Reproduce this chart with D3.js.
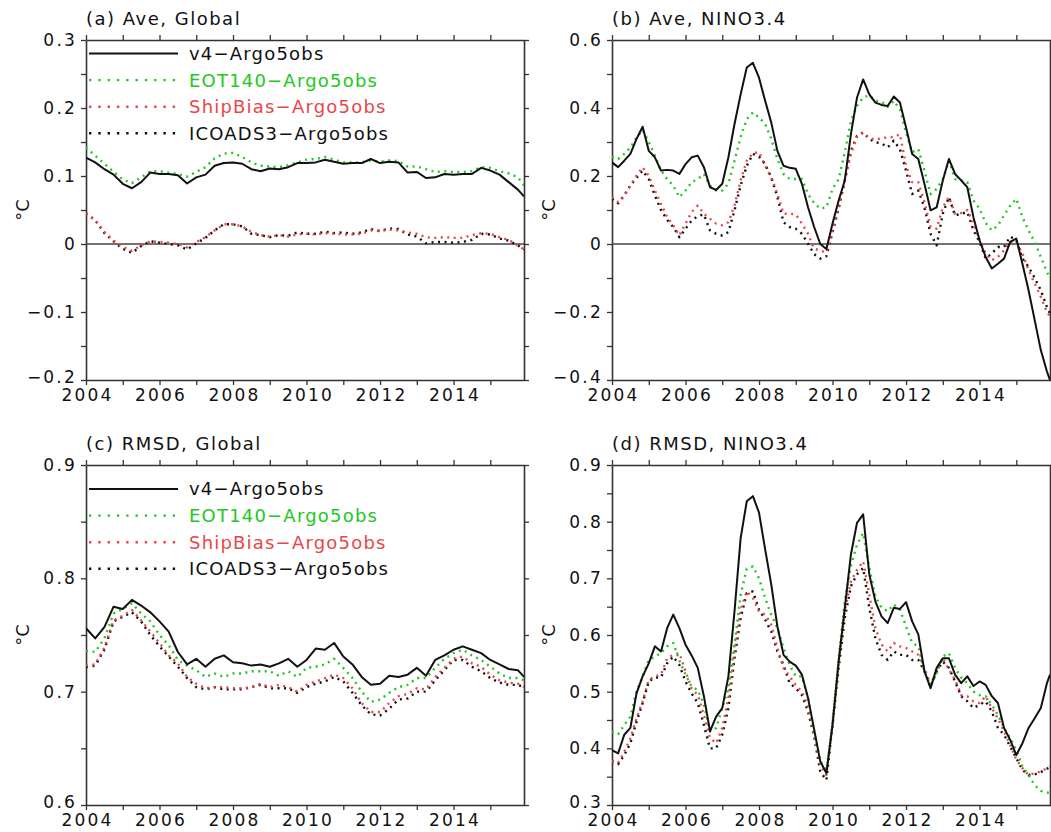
<!DOCTYPE html>
<html lang="en">
<head>
<meta charset="UTF-8">
<title>Argo5obs differences</title>
<script src="https://d3js.org/d3.v7.min.js"></script>
<style>
  body { margin: 0; background: #fff; }
  svg text { font-family: "DejaVu Sans", sans-serif; fill: #111; }
</style>
</head>
<body>
<svg id="chart" width="1051" height="832"></svg>
<script>
// months since Jan 2004 (quarterly for the global panels, every 2 months for NINO3.4)
var monthsQ = [0,3,6,9,12,15,18,21,24,27,30,33,36,39,42,45,48,51,54,57,60,63,66,69,72,75,78,81,84,87,90,93,96,99,102,105,108,111,114,117,120,123,126,129,132,135,138,141,143];
var monthsB = [0,2,4,6,8,10,12,14,16,18,20,22,24,26,28,30,32,34,36,38,40,42,44,46,48,50,52,54,56,58,60,62,64,66,68,70,
  72,74,76,78,80,82,84,86,88,90,92,94,96,98,100,102,104,106,108,110,112,114,116,118,120,122,124,126,128,130,132,134,136,138,140,142,143];

var seriesNames = ["v4\u2212Argo5obs", "EOT140\u2212Argo5obs", "ShipBias\u2212Argo5obs", "ICOADS3\u2212Argo5obs"];
var seriesColors = ["#111111", "#22c822", "#e8474a", "#111111"];
var yearTicks = [2004,2005,2006,2007,2008,2009,2010,2011,2012,2013,2014,2015];

// (a) Ave, Global
var aV4   = [0.127,0.120,0.110,0.102,0.0885,0.082,0.091,0.105,0.103,0.103,0.101,0.089,0.098,0.102,0.115,0.119,0.120,0.118,0.110,0.107,0.111,0.110,0.113,0.119,0.119,0.120,0.124,0.121,0.118,0.119,0.119,0.125,0.119,0.121,0.120,0.105,0.106,0.097,0.098,0.103,0.102,0.103,0.103,0.112,0.108,0.102,0.091,0.080,0.070];
var aEOT  = [0.142,0.130,0.118,0.106,0.095,0.0895,0.098,0.107,0.107,0.105,0.103,0.099,0.106,0.113,0.126,0.133,0.134,0.128,0.120,0.115,0.114,0.113,0.116,0.120,0.124,0.125,0.128,0.124,0.120,0.120,0.120,0.123,0.121,0.123,0.122,0.114,0.114,0.110,0.106,0.107,0.106,0.106,0.107,0.113,0.112,0.107,0.104,0.098,0.086];
var aShip = [0.045,0.035,0.018,0.005,-0.004,-0.010,-0.002,0.004,0.003,0.002,0.000,-0.005,0.003,0.010,0.020,0.029,0.029,0.026,0.018,0.013,0.011,0.013,0.011,0.014,0.015,0.014,0.016,0.015,0.014,0.014,0.015,0.020,0.019,0.021,0.020,0.017,0.015,0.010,0.009,0.010,0.009,0.009,0.013,0.016,0.015,0.010,0.006,-0.002,-0.008];
var aIco  = [0.045,0.035,0.016,0.004,-0.007,-0.013,-0.003,0.004,0.002,0.000,-0.002,-0.008,0.001,0.009,0.020,0.029,0.029,0.026,0.015,0.013,0.010,0.013,0.012,0.017,0.015,0.015,0.018,0.016,0.017,0.015,0.017,0.022,0.019,0.023,0.022,0.014,0.011,0.001,0.003,0.003,0.002,0.003,0.006,0.015,0.014,0.008,0.005,-0.002,-0.008];

// (b) Ave, NINO3.4
var bV4   = [0.24,0.226,0.245,0.265,0.309,0.345,0.274,0.255,0.216,0.218,0.216,0.206,0.235,0.255,0.26,0.226,0.167,0.159,0.177,0.255,0.353,0.440,0.519,0.533,0.489,0.421,0.357,0.274,0.230,0.224,0.221,0.177,0.108,0.050,0.000,-0.015,
  0.06,0.128,0.187,0.323,0.431,0.484,0.44,0.416,0.409,0.406,0.434,0.416,0.343,0.265,0.25,0.177,0.099,0.108,0.187,0.25,0.206,0.187,0.167,0.079,0.011,-0.038,-0.072,-0.058,-0.043,0.006,0.016,-0.058,-0.136,-0.224,-0.312,-0.375,-0.40];
var bEOT  = [0.257,0.25,0.265,0.284,0.313,0.335,0.30,0.26,0.216,0.191,0.172,0.138,0.157,0.182,0.191,0.206,0.172,0.157,0.157,0.177,0.245,0.315,0.367,0.387,0.372,0.353,0.309,0.25,0.206,0.191,0.191,0.191,0.147,0.12,0.104,0.108,
  0.162,0.191,0.27,0.362,0.406,0.431,0.437,0.421,0.419,0.403,0.421,0.396,0.328,0.27,0.279,0.216,0.147,0.162,0.191,0.245,0.191,0.187,0.182,0.128,0.104,0.062,0.04,0.055,0.084,0.113,0.133,0.079,0.04,0.006,-0.038,-0.082,-0.1];
var bShip = [0.138,0.123,0.143,0.172,0.201,0.226,0.201,0.157,0.118,0.079,0.055,0.025,0.06,0.094,0.113,0.089,0.074,0.06,0.055,0.064,0.113,0.187,0.245,0.267,0.27,0.23,0.196,0.147,0.089,0.089,0.087,0.06,0.03,-0.014,-0.019,-0.026,
  0.04,0.108,0.187,0.265,0.315,0.328,0.312,0.306,0.312,0.313,0.315,0.323,0.23,0.182,0.182,0.123,0.05,0.045,0.108,0.138,0.089,0.091,0.1,0.06,0.011,-0.028,-0.048,-0.038,-0.019,0.006,0.006,-0.028,-0.077,-0.116,-0.155,-0.2,-0.214];
var bIco  = [0.133,0.12,0.143,0.172,0.194,0.216,0.191,0.143,0.1,0.071,0.05,0.02,0.045,0.069,0.082,0.087,0.04,0.03,0.025,0.035,0.099,0.172,0.23,0.265,0.257,0.235,0.196,0.138,0.064,0.05,0.045,0.03,0.001,-0.03,-0.043,-0.036,
  0.035,0.104,0.187,0.274,0.318,0.328,0.309,0.299,0.296,0.284,0.304,0.279,0.216,0.147,0.157,0.108,0.03,-0.004,0.089,0.138,0.084,0.089,0.094,0.04,0.006,-0.043,-0.028,-0.009,-0.009,0.022,0.011,-0.043,-0.067,-0.1,-0.136,-0.185,-0.204];

// (c) RMSD, Global
var cV4   = [0.756,0.747,0.757,0.775,0.773,0.781,0.776,0.770,0.762,0.753,0.735,0.724,0.729,0.722,0.729,0.732,0.726,0.725,0.723,0.724,0.722,0.725,0.729,0.722,
  0.728,0.738,0.737,0.743,0.731,0.724,0.713,0.706,0.707,0.714,0.713,0.715,0.721,0.714,0.728,0.732,0.737,0.740,0.737,0.734,0.728,0.724,0.720,0.719,0.713];
var cEOT  = [0.736,0.735,0.747,0.769,0.773,0.778,0.769,0.762,0.750,0.741,0.728,0.723,0.719,0.713,0.716,0.713,0.716,0.716,0.718,0.718,0.718,0.714,0.718,0.713,
  0.721,0.722,0.724,0.729,0.721,0.712,0.700,0.691,0.693,0.699,0.704,0.706,0.712,0.712,0.721,0.729,0.734,0.737,0.732,0.728,0.722,0.716,0.712,0.712,0.710];
var cShip = [0.723,0.724,0.739,0.763,0.767,0.772,0.763,0.753,0.743,0.732,0.725,0.713,0.707,0.703,0.704,0.704,0.703,0.703,0.704,0.707,0.704,0.706,0.704,0.700,
  0.706,0.709,0.712,0.715,0.712,0.703,0.690,0.682,0.682,0.690,0.696,0.698,0.703,0.702,0.713,0.721,0.729,0.731,0.725,0.722,0.715,0.710,0.708,0.707,0.704];
var cIco  = [0.722,0.723,0.737,0.762,0.766,0.770,0.762,0.750,0.740,0.731,0.722,0.712,0.704,0.702,0.704,0.702,0.702,0.702,0.704,0.706,0.703,0.703,0.703,0.699,
  0.704,0.707,0.709,0.713,0.709,0.699,0.688,0.680,0.679,0.685,0.693,0.694,0.700,0.700,0.710,0.719,0.728,0.728,0.722,0.718,0.712,0.708,0.706,0.706,0.704];

// (d) RMSD, NINO3.4
var dV4   = [0.397,0.391,0.424,0.436,0.497,0.527,0.55,0.58,0.571,0.612,0.636,0.612,0.583,0.564,0.542,0.492,0.43,0.456,0.471,0.527,0.642,0.771,0.836,0.845,0.816,0.751,0.689,0.615,0.565,0.553,0.546,0.53,0.489,0.433,0.377,0.356,
  0.441,0.553,0.648,0.742,0.798,0.813,0.707,0.659,0.633,0.621,0.648,0.646,0.658,0.624,0.601,0.536,0.506,0.542,0.559,0.559,0.53,0.515,0.527,0.51,0.518,0.512,0.492,0.48,0.436,0.415,0.388,0.409,0.436,0.453,0.471,0.515,0.53];
var dEOT  = [0.43,0.425,0.441,0.456,0.5,0.527,0.556,0.562,0.568,0.58,0.586,0.555,0.53,0.509,0.503,0.477,0.43,0.436,0.471,0.506,0.583,0.671,0.717,0.721,0.7,0.665,0.636,0.612,0.577,0.547,0.527,0.527,0.489,0.43,0.377,0.362,
  0.441,0.559,0.659,0.721,0.76,0.78,0.718,0.668,0.648,0.642,0.654,0.645,0.615,0.586,0.58,0.536,0.511,0.533,0.562,0.568,0.542,0.525,0.515,0.5,0.494,0.492,0.477,0.459,0.436,0.418,0.397,0.368,0.353,0.335,0.325,0.322,0.321];
var dShip = [0.377,0.374,0.394,0.418,0.453,0.483,0.521,0.527,0.53,0.559,0.565,0.568,0.536,0.506,0.494,0.459,0.418,0.409,0.436,0.489,0.571,0.645,0.677,0.665,0.642,0.636,0.618,0.577,0.542,0.527,0.512,0.5,0.474,0.424,0.371,0.353,
  0.447,0.553,0.642,0.695,0.715,0.73,0.671,0.612,0.583,0.571,0.586,0.58,0.577,0.571,0.565,0.542,0.512,0.536,0.559,0.539,0.521,0.494,0.492,0.483,0.48,0.492,0.471,0.453,0.43,0.406,0.38,0.365,0.353,0.356,0.359,0.365,0.368];
var dIco  = [0.377,0.372,0.388,0.409,0.447,0.48,0.518,0.525,0.525,0.55,0.562,0.547,0.518,0.497,0.48,0.441,0.4,0.4,0.424,0.471,0.559,0.63,0.674,0.677,0.645,0.627,0.606,0.571,0.547,0.515,0.506,0.494,0.465,0.421,0.359,0.344,
  0.441,0.542,0.63,0.686,0.707,0.718,0.648,0.594,0.565,0.556,0.571,0.565,0.565,0.556,0.556,0.536,0.509,0.536,0.553,0.542,0.518,0.492,0.483,0.471,0.477,0.483,0.465,0.436,0.424,0.403,0.383,0.362,0.353,0.354,0.358,0.364,0.366];

// y tick positions and the subset that carries a label
var aTicks = [-0.2,-0.15,-0.1,-0.05,0,0.05,0.1,0.15,0.2,0.25,0.3];
var aLabels = [-0.2,-0.1,0,0.1,0.2,0.3];
var bTicks = [-0.4,-0.3,-0.2,-0.1,0,0.1,0.2,0.3,0.4,0.5,0.6];
var bLabels = [-0.4,-0.2,0,0.2,0.4,0.6];
var cTicks = [0.6,0.65,0.7,0.75,0.8,0.85,0.9];
var cLabels = [0.6,0.7,0.8,0.9];
var dTicks = [0.3,0.35,0.4,0.45,0.5,0.55,0.6,0.65,0.7,0.75,0.8,0.85,0.9];
var dLabels = [0.3,0.4,0.5,0.6,0.7,0.8,0.9];

var W = 438;
var panels = [
  {id:"a", title:"(a)  Ave,  Global",    left:86,  top:40,  h:340, ydom:[-0.2,0.3], ticks:aTicks, labels:aLabels, months:monthsQ, data:[aV4,aEOT,aShip,aIco], zero:true,  legendY:53.5},
  {id:"b", title:"(b)  Ave,  NINO3.4",   left:612, top:40,  h:340, ydom:[-0.4,0.6], ticks:bTicks, labels:bLabels, months:monthsB, data:[bV4,bEOT,bShip,bIco], zero:true},
  {id:"c", title:"(c)  RMSD,  Global",   left:86,  top:465, h:340, ydom:[0.6,0.9],  ticks:cTicks, labels:cLabels, months:monthsQ, data:[cV4,cEOT,cShip,cIco], zero:false, legendY:489},
  {id:"d", title:"(d)  RMSD,  NINO3.4",  left:612, top:465, h:340, ydom:[0.3,0.9],  ticks:dTicks, labels:dLabels, months:monthsB, data:[dV4,dEOT,dShip,dIco], zero:false}
];

var svg = d3.select("#chart");

function yFormat(labels) {
  return function(d) {
    var hit = labels.some(function(l) { return Math.abs(l - d) < 1e-9; });
    if (!hit) return "";
    if (Math.abs(d) < 1e-9) return "0";
    return d.toFixed(1).replace("-", "\u2212");
  };
}

panels.forEach(function(p) {
  var g = svg.append("g").attr("transform", "translate(" + p.left + "," + p.top + ")");
  var x = d3.scaleLinear().domain([2004, 2004 + 143 / 12]).range([0, W]);
  var y = d3.scaleLinear().domain(p.ydom).range([p.h, 0]);

  g.append("clipPath").attr("id", "clip-" + p.id)
    .append("rect").attr("width", W).attr("height", p.h);

  // axes on all four sides, ticks outward
  var bottom = g.append("g").attr("class", "axis").attr("transform", "translate(0," + p.h + ")")
    .call(d3.axisBottom(x).tickValues(yearTicks).tickSize(5).tickSizeOuter(0).tickPadding(4)
      .tickFormat(function(d) { return d % 2 === 0 ? d : ""; }));
  bottom.selectAll("text").attr("dx", 1);
  var left = g.append("g").attr("class", "axis")
    .call(d3.axisLeft(y).tickValues(p.ticks).tickSize(5).tickSizeOuter(0).tickPadding(4).tickFormat(yFormat(p.labels)));
  // lift the lowest label a little so it clears the year labels
  left.selectAll("text").filter(function(d) { return Math.abs(d - p.ydom[0]) < 1e-9; }).attr("dy", "0.12em");
  g.append("g").attr("class", "axis")
    .call(d3.axisTop(x).tickValues(yearTicks).tickSize(5).tickSizeOuter(0).tickFormat(""));
  g.append("g").attr("class", "axis").attr("transform", "translate(" + W + ",0)")
    .call(d3.axisRight(y).tickValues(p.ticks).tickSize(5).tickSizeOuter(0).tickFormat(""));

  g.selectAll(".axis path").attr("stroke", "#333").attr("stroke-width", 1.6);
  g.selectAll(".axis line").attr("stroke", "#333").attr("stroke-width", 1.3);
  g.selectAll(".axis text").attr("font-size", 17).attr("letter-spacing", 2.2)
    .attr("font-family", "DejaVu Sans").attr("fill", "#111");

  if (p.zero) {
    g.append("line").attr("x1", 0).attr("x2", W).attr("y1", y(0)).attr("y2", y(0))
      .attr("stroke", "#444").attr("stroke-width", 1.3);
  }

  var line = d3.line()
    .x(function(d) { return x(2004 + d[0] / 12); })
    .y(function(d) { return y(d[1]); });

  var plot = g.append("g").attr("clip-path", "url(#clip-" + p.id + ")");
  [3, 2, 1, 0].forEach(function(i) {
    plot.append("path")
      .datum(d3.zip(p.months, p.data[i]))
      .attr("d", line)
      .attr("fill", "none")
      .attr("stroke", seriesColors[i])
      .attr("stroke-width", i === 0 ? 2 : 2.4)
      .attr("stroke-dasharray", i === 0 ? null : "2,4.5")
      .attr("stroke-linejoin", "round");
  });

  // panel title
  g.append("text").attr("x", 0).attr("y", -15)
    .attr("font-size", 18).attr("letter-spacing", 1.5)
    .text(p.title);

  // y label
  g.append("text")
    .attr("transform", "translate(" + -63 + "," + (p.h / 2) + ") rotate(-90)")
    .attr("text-anchor", "middle").attr("dy", "0.35em")
    .attr("font-size", 18)
    .text("\u00B0C");

  // legend
  if (p.legendY !== undefined) {
    var lg = g.append("g").attr("transform", "translate(0," + (p.legendY - p.top) + ")");
    seriesNames.forEach(function(name, i) {
      var row = lg.append("g").attr("transform", "translate(0," + (i * 26.6) + ")");
      row.append("line").attr("x1", 3).attr("x2", 92).attr("y1", 0).attr("y2", 0)
        .attr("stroke", seriesColors[i])
        .attr("stroke-width", i === 0 ? 2 : 2.4)
        .attr("stroke-dasharray", i === 0 ? null : "2.4,6.9");
      row.append("text").attr("x", 103).attr("y", 0).attr("dy", "0.36em")
        .attr("font-size", 18).attr("letter-spacing", 1.2)
        .style("fill", seriesColors[i])
        .text(name);
    });
  }
});
</script>
</body>
</html>
